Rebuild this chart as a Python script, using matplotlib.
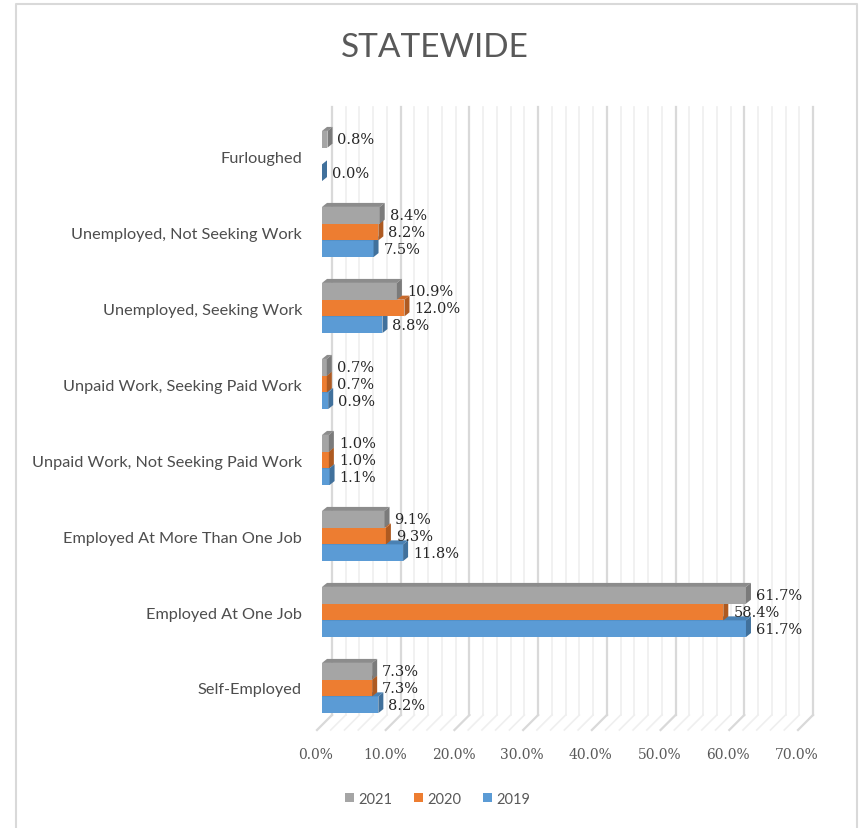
#!/usr/bin/env python3
"""STATEWIDE employment status, 3D-style clustered bar chart."""

import matplotlib
matplotlib.use("Agg")
import matplotlib.pyplot as plt
from matplotlib.patches import Polygon, Patch
from matplotlib.lines import Line2D
from matplotlib.transforms import ScaledTranslation

categories = [
    "Self-Employed",
    "Employed At One Job",
    "Employed At More Than One Job",
    "Unpaid Work, Not Seeking Paid Work",
    "Unpaid Work, Seeking Paid Work",
    "Unemployed, Seeking Work",
    "Unemployed, Not Seeking Work",
    "Furloughed",
]
v2019 = [8.2, 61.7, 11.8, 1.1, 0.9, 8.8, 7.5, 0.0]
v2020 = [7.3, 58.4, 9.3, 1.0, 0.7, 12.0, 8.2, None]
v2021 = [7.3, 61.7, 9.1, 1.0, 0.7, 10.9, 8.4, 0.8]
xticks = [0, 10, 20, 30, 40, 50, 60, 70]

W, H, DPI = 864, 829, 100
AX_L, AX_R, AX_T, AX_B = 322, 803, 119, 727

fig = plt.figure(figsize=(W / DPI, H / DPI), dpi=DPI)
ax = fig.add_axes([AX_L / W, 1 - AX_B / H, (AX_R - AX_L) / W, (AX_B - AX_T) / H])
ax.set_xlim(0, 70)
ax.set_ylim(-0.5, len(categories) - 0.5)
for s in ax.spines.values():
    s.set_visible(False)

# pixel -> data helpers
sx = 70 / (AX_R - AX_L)
sy = len(categories) / (AX_B - AX_T)


def px(dx, dy):
    return dx * sx, -dy * sy  # dy in screen pixels (down positive)


# back wall / floor gridlines
bdx, bdy = px(10, -11)
fdx, fdy = px(-5, 4)
y0, y1 = -0.5, len(categories) - 0.5
for v in range(0, 71, 2):
    major = v % 10 == 0
    col = "#d9d9d9" if major else "#efefef"
    lw = 1.6 if major else 1.2
    ax.add_line(Line2D([v + bdx, v + bdx], [y0 + bdy, y1 + bdy], color=col, lw=lw,
                       zorder=0, clip_on=False))
    ax.add_line(Line2D([v + fdx, v + bdx], [y0 + fdy, y0 + bdy], color=col, lw=lw,
                       zorder=0, clip_on=False))

# bars
h = 0.22
series = [
    ("2019", v2019, "#5b9bd5", "#4a81b3", "#41719c", -h),
    ("2020", v2020, "#ed7d31", "#c9692a", "#ae5a21", 0.0),
    ("2021", v2021, "#a5a5a5", "#8c8c8c", "#7b7b7b", h),
]
ddx, ddy = px(5, -4)
for name, vals, front, top, side, off in series:
    for i, v in enumerate(vals):
        if v is None:
            continue
        yc = i + off
        yb, yt = yc - h / 2, yc + h / 2
        ax.add_patch(Polygon([(0, yb), (v, yb), (v, yt), (0, yt)], closed=True,
                             facecolor=front, edgecolor="none", zorder=2))
        ax.add_patch(Polygon([(0, yt), (v, yt), (v + ddx, yt + ddy), (ddx, yt + ddy)],
                             closed=True, facecolor=top, edgecolor="none", zorder=2,
                             clip_on=False))
        ax.add_patch(Polygon([(v, yb), (v + ddx, yb + ddy), (v + ddx, yt + ddy), (v, yt)],
                             closed=True, facecolor=side, edgecolor="none", zorder=2,
                             clip_on=False))
        ax.text(v + ddx + 5 * sx, yc, f"{v:.1f}%", ha="left", va="center",
                fontsize=10.5, family="DejaVu Serif", color="#262626", zorder=5)

# axes labels
ax.set_yticks(range(len(categories)))
ax.set_yticklabels(categories, family="Lato", fontsize=11.7, color="#4d4d4d")
ax.tick_params(axis="y", length=0, pad=14.4)
ax.set_xticks(xticks)
ax.set_xticklabels([f"{t:.1f}%" for t in xticks], family="DejaVu Serif",
                   fontsize=10, color="#595959")
ax.tick_params(axis="x", length=0, pad=15)
shift = ScaledTranslation(-6 / DPI, 0, fig.dpi_scale_trans)
for lab in ax.get_xticklabels():
    lab.set_transform(lab.get_transform() + shift)

fig.text(0.5 + 3 / W, 1 - 48 / H, "STATEWIDE", ha="center", va="center",
         family="Lato", fontsize=24, color="#595959")

handles = [Patch(facecolor=c, edgecolor="none", label=n)
           for n, _, c, _, _, _ in series[::-1]]
fig.legend(handles=handles, loc="center", bbox_to_anchor=(438 / W, 1 - 800 / H),
           ncol=3, frameon=False, handlelength=0.6, handleheight=0.6,
           handletextpad=0.3, columnspacing=1.5,
           prop={"family": "Lato", "size": 10.5})
for t in fig.legends[0].get_texts():
    t.set_color("#595959")

# chart border
fig.add_artist(Line2D([16 / W, 16 / W, 857 / W, 857 / W],
                      [0, 1 - 5 / H, 1 - 5 / H, 0], color="#d9d9d9", lw=1.5,
                      transform=fig.transFigure))

fig.savefig("out.png", dpi=DPI)
